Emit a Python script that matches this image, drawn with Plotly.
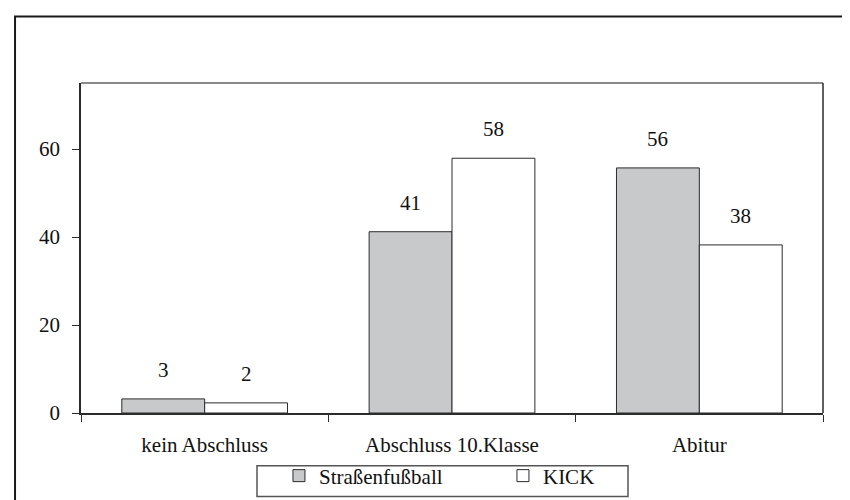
import plotly.graph_objects as go

categories = ["kein Abschluss", "Abschluss 10.Klasse", "Abitur"]
strassen = [3.2, 41.2, 55.7]
kick = [2.3, 57.9, 38.2]
series_names = ["Straßenfußball", "KICK"]
y_ticks = [0, 20, 40, 60]

FONT = "Liberation Serif, Times New Roman, serif"
DARK = "#2b2b2b"
BARGAP = 0.33

fig = go.Figure()
fig.add_trace(go.Bar(
    x=categories, y=strassen, name=series_names[0],
    marker=dict(color="#c8c9cb", line=dict(color=DARK, width=1)),
))
fig.add_trace(go.Bar(
    x=categories, y=kick, name=series_names[1],
    marker=dict(color="#ffffff", line=dict(color=DARK, width=1)),
))

# value labels above each bar (positions from the category index and group offset)
off = (1 - BARGAP) / 4
for series, sign in ((strassen, -1), (kick, 1)):
    for i, v in enumerate(series):
        fig.add_annotation(
            x=i + sign * off, y=v, xref="x", yref="y",
            text=f"{v:.0f}", showarrow=False,
            yanchor="bottom", yshift=15,
            font=dict(family=FONT, size=21, color="#111"),
        )

fig.update_layout(
    width=850, height=500,
    margin=dict(l=73, r=35, t=75, b=93),
    paper_bgcolor="white", plot_bgcolor="white",
    font=dict(family=FONT, size=21, color="#111"),
    barmode="group", bargap=BARGAP, bargroupgap=0,
    showlegend=True,
    legend=dict(
        orientation="h", x=0.2668, xanchor="left", y=-0.253, yanchor="bottom",
        borderwidth=0, bgcolor="rgba(0,0,0,0)",
        font=dict(family=FONT, size=21, color="#111"),
        entrywidth=179, entrywidthmode="pixels",
    ),
)
fig.update_xaxes(
    type="category", tickson="boundaries", ticks="outside", ticklen=7,
    tickcolor=DARK, showline=True, linecolor=DARK, linewidth=1.5,
    showgrid=False, ticklabelstandoff=12,
)
fig.update_yaxes(
    range=[0, 75], tickvals=y_ticks, ticks="outside", ticklen=7,
    tickcolor=DARK, showline=True, linecolor=DARK, linewidth=1.5,
    showgrid=False, zeroline=False, ticklabelstandoff=8,
)
# plot area frame: gray top, dark right
fig.add_shape(type="line", xref="paper", yref="paper", x0=0, x1=1, y0=1, y1=1,
              line=dict(color="#8a8a8a", width=2))
fig.add_shape(type="line", xref="paper", yref="paper", x0=1, x1=1, y0=0, y1=1,
              line=dict(color=DARK, width=1.5))
# legend frame
fig.add_shape(type="rect", xref="paper", yref="paper", x0=0.2372, x1=0.7372,
              y0=-0.253, y1=-0.1596, line=dict(color="#555", width=1.5),
              fillcolor="white", layer="below")
# outer chart border (cropped at right/bottom)
fig.add_shape(type="rect", xref="paper", yref="paper", x0=-0.0889, x1=1.2,
              y0=-0.5, y1=1.2018, line=dict(color="#1a1a1a", width=2),
              layer="below")

fig.write_html("out.html")
